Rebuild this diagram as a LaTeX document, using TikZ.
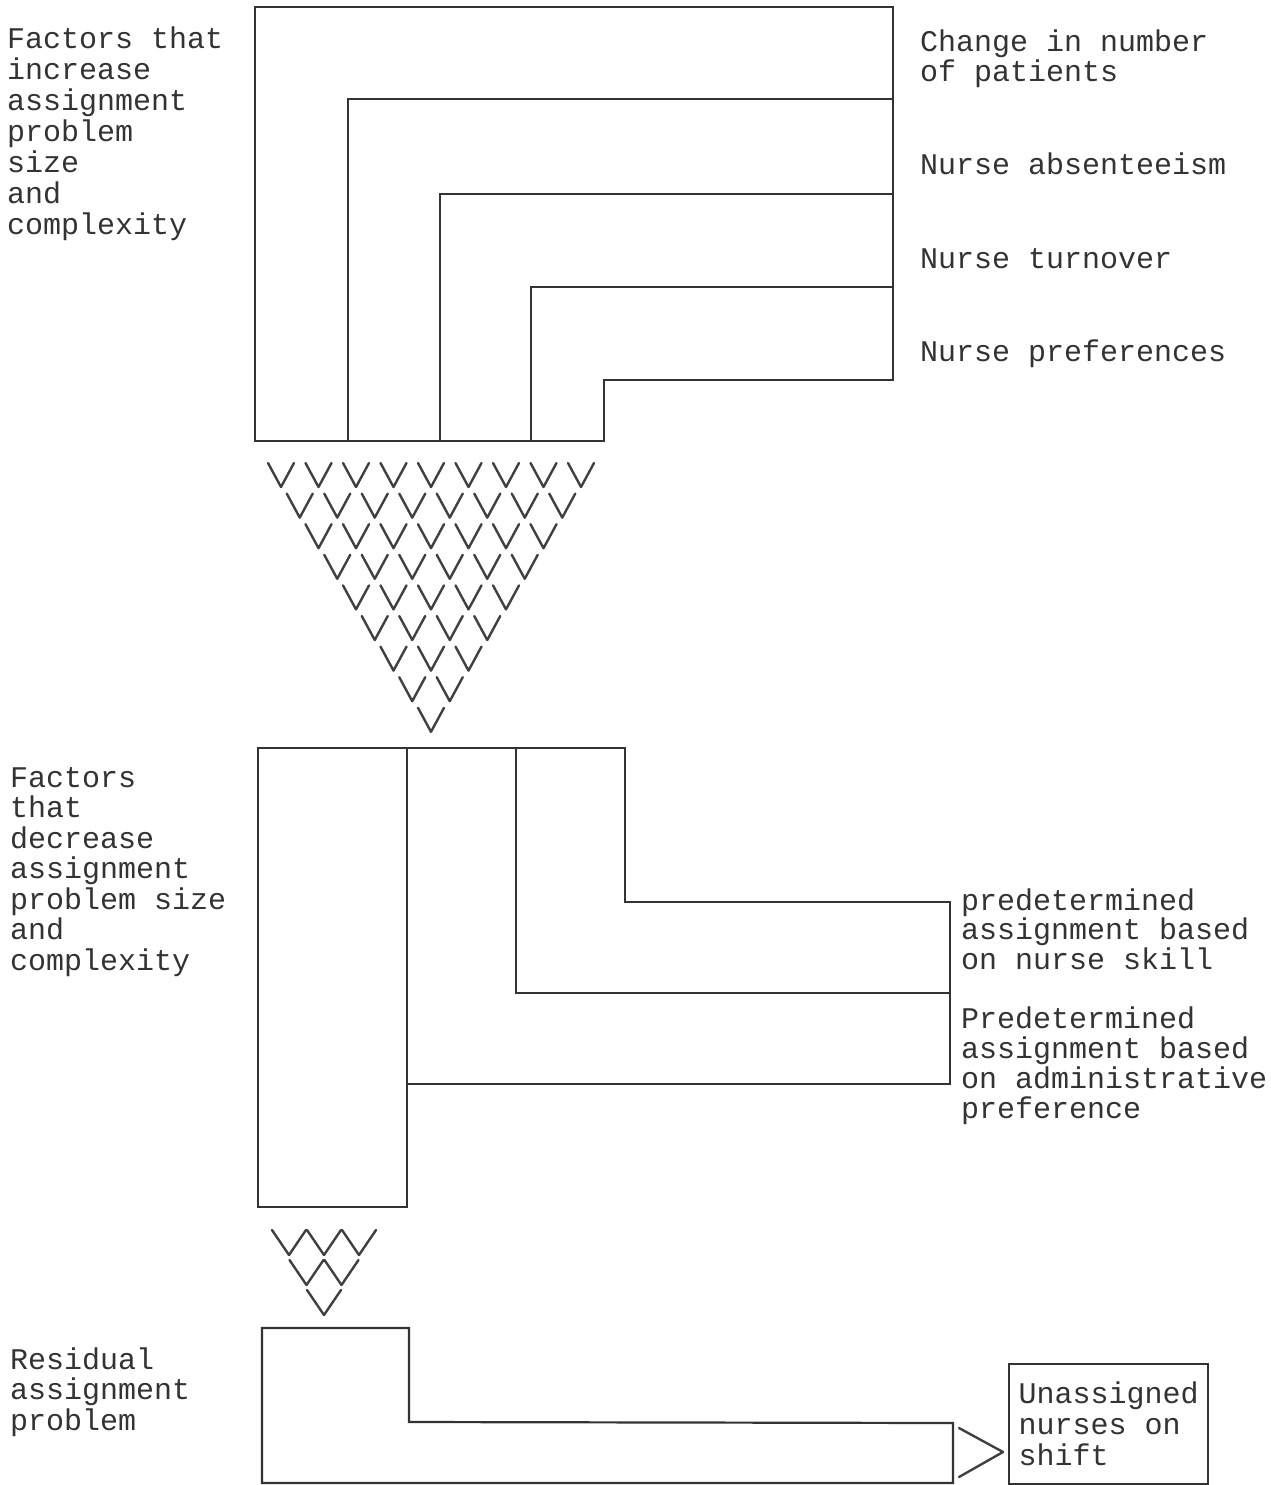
\documentclass[tikz,border=0pt]{standalone}
\usepackage{fontspec}
\setmonofont{Liberation Mono}

\begin{document}
\begin{tikzpicture}[
        x=1pt, y=-1pt,
        outline/.style={draw=black!80, line width=2.2pt, line join=miter},
        vline/.style={draw=black!75, line width=2.4pt, line cap=round, line join=round},
        % multi-line texts: anchored at the baseline of their last line
        txt/.style={anchor=base west, align=left, inner sep=0pt, text=black!80,
                    font=\ttfamily\fontsize{30}{30.5}\selectfont}
    ]
        \useasboundingbox (0,0) rectangle (1270,1485);

        % factors that increase the problem
        \draw[outline] (255,7) -- (893,7) -- (893,380) -- (604,380) -- (604,441) -- (255,441) -- cycle;
        \draw[outline] (348,441) -- (348,99) -- (893,99);
        \draw[outline] (440,441) -- (440,194) -- (893,194);
        \draw[outline] (531,441) -- (531,287) -- (893,287);

        \node[txt, font=\ttfamily\fontsize{30}{31}\selectfont] (incr) at (7,234)
            {Factors that\\increase\\assignment\\problem\\size\\and\\complexity};
        \node[txt] (patients) at (920,82) {Change in number\\of patients};
        \node[txt] (absent) at (920,174) {Nurse absenteeism};
        \node[txt] (turnover) at (920,268) {Nurse turnover};
        \node[txt] (prefs) at (920,361) {Nurse preferences};

        % funnel of V marks
        \foreach \r in {0,...,8} {
            \pgfmathtruncatemacro\last{8-\r}
            \foreach \k in {0,...,\last}
                \draw[vline] ({268+18.75*\r+37.5*\k},{463+30.6*\r}) -- ++(13,24) -- ++(13,-24);
        }

        % factors that decrease the problem
        \draw[outline] (258,748) -- (625,748) -- (625,902) -- (950,902) -- (950,1084) -- (407,1084) -- (407,1207) -- (258,1207) -- cycle;
        \draw[outline] (407,748) -- (407,1084);
        \draw[outline] (516,748) -- (516,993) -- (950,993);

        \node[txt] (decr) at (10,970) {Factors\\that\\decrease\\assignment\\problem size\\and\\complexity};
        \node[txt, font=\ttfamily\fontsize{30}{29.5}\selectfont] (skill) at (961,969)
            {predetermined\\assignment based\\on nurse skill};
        \node[txt, font=\ttfamily\fontsize{30}{30}\selectfont] (admin) at (961,1118)
            {Predetermined\\assignment based\\on administrative\\preference};

        \foreach \r in {0,...,2} {
            \pgfmathtruncatemacro\last{2-\r}
            \foreach \k in {0,...,\last}
                \draw[vline] ({272+17.5*\r+35*\k},{1230+30*\r}) -- ++(17,25) -- ++(17,-25);
        }

        % residual problem
        \draw[outline] (262,1328) -- (409,1328) -- (409,1422) -- (953,1423) -- (953,1483) -- (262,1483) -- cycle;
        \node[txt] (resid) at (10,1430) {Residual\\assignment\\problem};

        \node[draw=black!80, line width=2.2pt, anchor=north west, minimum width=199pt,
              minimum height=120pt, inner xsep=9.5pt, align=left, text=black!80,
              font=\ttfamily\fontsize{30}{31}\selectfont] (unassigned)
              at (1008,1363) {Unassigned\\nurses on\\shift};
        \coordinate (tip) at (1003,1452);
        \draw[vline] (959,1428) -- (tip) -- (959,1477);
\end{tikzpicture}
\end{document}
